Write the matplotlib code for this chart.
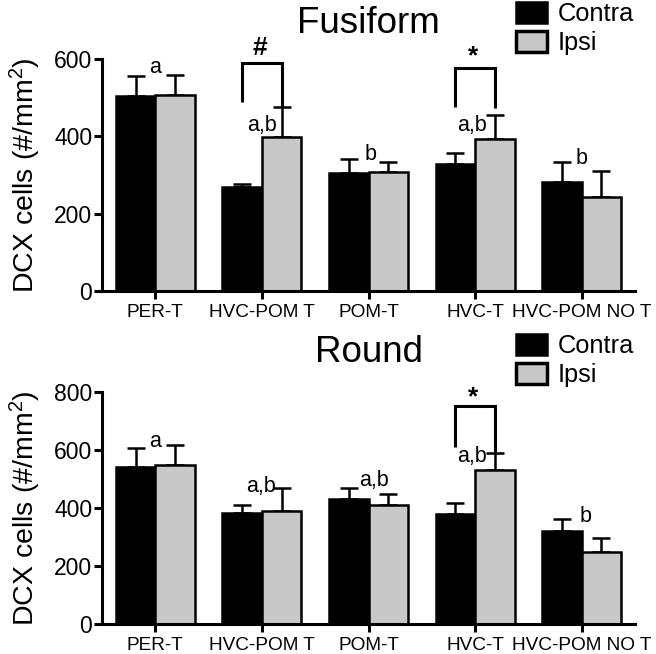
import numpy as np
import matplotlib
matplotlib.use("Agg")
import matplotlib.pyplot as plt
from matplotlib.patches import Patch

plt.rcParams['font.family'] = ['Liberation Sans', 'DejaVu Sans']
plt.rcParams['mathtext.default'] = 'regular'

groups = ["PER-T", "HVC-POM T", "POM-T", "HVC-T", "HVC-POM NO T"]

# Fusiform
fus_contra = [505, 270, 306, 328, 282]
fus_contra_sem = [51, 6, 35, 28, 51]
fus_ipsi = [507, 398, 308, 392, 244]
fus_ipsi_sem = [52, 77, 25, 63, 67]
fus_letters = ["a", "a,b", "b", "a,b", "b"]
fus_letter_pos = [(0.0, 577), (1.0, 429), (2.02, 352), (2.97, 427), (4.0, 344)]
fus_brackets = [(1, "#", 590, 489, 476, 628), (3, "*", 577, 476, 473, 606)]

# Round
rnd_contra = [542, 384, 430, 378, 320]
rnd_contra_sem = [63, 26, 38, 38, 41]
rnd_ipsi = [548, 391, 410, 531, 250]
rnd_ipsi_sem = [67, 77, 39, 57, 48]
rnd_letters = ["a", "a,b", "a,b", "a,b", "b"]
rnd_letter_pos = [(0.0, 628), (0.99, 473), (2.05, 496), (2.97, 576), (4.04, 370)]
rnd_brackets = [(3, "*", 750, 611, 594, 782)]

GRAY = "#c8c8c8"
LW = 2.2
W = 0.37


def panel(ax, title, contra, csem, ipsi, isem, letters, letter_pos, brackets,
          ymax, title_pad, legend_y):
    x = np.arange(len(groups))
    xc = x - W / 2
    xi = x + W / 2
    ax.errorbar(xc, contra, yerr=[np.zeros(len(x)), csem], fmt='none',
                ecolor='k', elinewidth=1.8, capsize=6.5, capthick=1.8,
                zorder=1, clip_on=False)
    ax.errorbar(xi, ipsi, yerr=[np.zeros(len(x)), isem], fmt='none',
                ecolor='k', elinewidth=1.8, capsize=6.5, capthick=1.8,
                zorder=1, clip_on=False)
    ax.bar(xc, contra, W, color='k', edgecolor='k', linewidth=1.8, zorder=2)
    ax.bar(xi, ipsi, W, color=GRAY, edgecolor='k', linewidth=1.8, zorder=2)

    for (lx, ly), s in zip(letter_pos, letters):
        ax.text(lx, ly, s, ha='center', va='center', fontsize=15.5)

    for g, sym, top, lbot, rbot, sy in brackets:
        ax.plot([g - W / 2, g - W / 2, g + W / 2, g + W / 2],
                [lbot, top, top, rbot], color='k', lw=LW, clip_on=False,
                solid_capstyle='butt', solid_joinstyle='miter')
        ax.text(g - 0.02, sy, sym, ha='center', va='center', fontsize=19,
                fontweight='bold', clip_on=False)

    ax.set_xlim(-0.5, len(groups) - 0.5)
    ax.set_ylim(0, ymax)
    ax.set_yticks(np.arange(0, ymax + 1, 200))
    ax.set_xticks(x)
    ax.set_xticklabels(groups, fontsize=13.7)
    ax.tick_params(axis='y', labelsize=16.5, width=LW, length=6, pad=1)
    ax.tick_params(axis='x', width=LW, length=6, pad=3)
    for sp in ['top', 'right']:
        ax.spines[sp].set_visible(False)
    for sp in ['left', 'bottom']:
        ax.spines[sp].set_linewidth(LW)
    ax.set_ylabel("DCX cells (#/mm$^2$)", fontsize=20.5, labelpad=8)
    ax.set_title(title, fontsize=26.5, pad=title_pad)

    handles = [Patch(facecolor='k', edgecolor='k', linewidth=1.8, label='Contra'),
               Patch(facecolor=GRAY, edgecolor='k', linewidth=2.5, label='Ipsi')]
    ax.legend(handles=handles, loc='upper left', frameon=False,
              bbox_to_anchor=(516 / 656, legend_y), bbox_transform=ax.figure.transFigure,
              fontsize=18.3, handlelength=1.2, handleheight=0.9,
              handletextpad=0.45, labelspacing=0.18, borderpad=0,
              borderaxespad=0)


fig = plt.figure(figsize=(6.56, 6.54), dpi=100)
ax1 = fig.add_axes([0.1555, 0.555, 0.8125, 0.3547])
ax2 = fig.add_axes([0.1555, 0.0454, 0.8125, 0.3557])

panel(ax1, "Fusiform", fus_contra, fus_contra_sem, fus_ipsi, fus_ipsi_sem,
      fus_letters, fus_letter_pos, fus_brackets, 600, 18.5, 1 - 2 / 654)
panel(ax2, "Round", rnd_contra, rnd_contra_sem, rnd_ipsi, rnd_ipsi_sem,
      rnd_letters, rnd_letter_pos, rnd_brackets, 800, 21.5, 1 - 334 / 654)

fig.savefig("out.png", dpi=100)
